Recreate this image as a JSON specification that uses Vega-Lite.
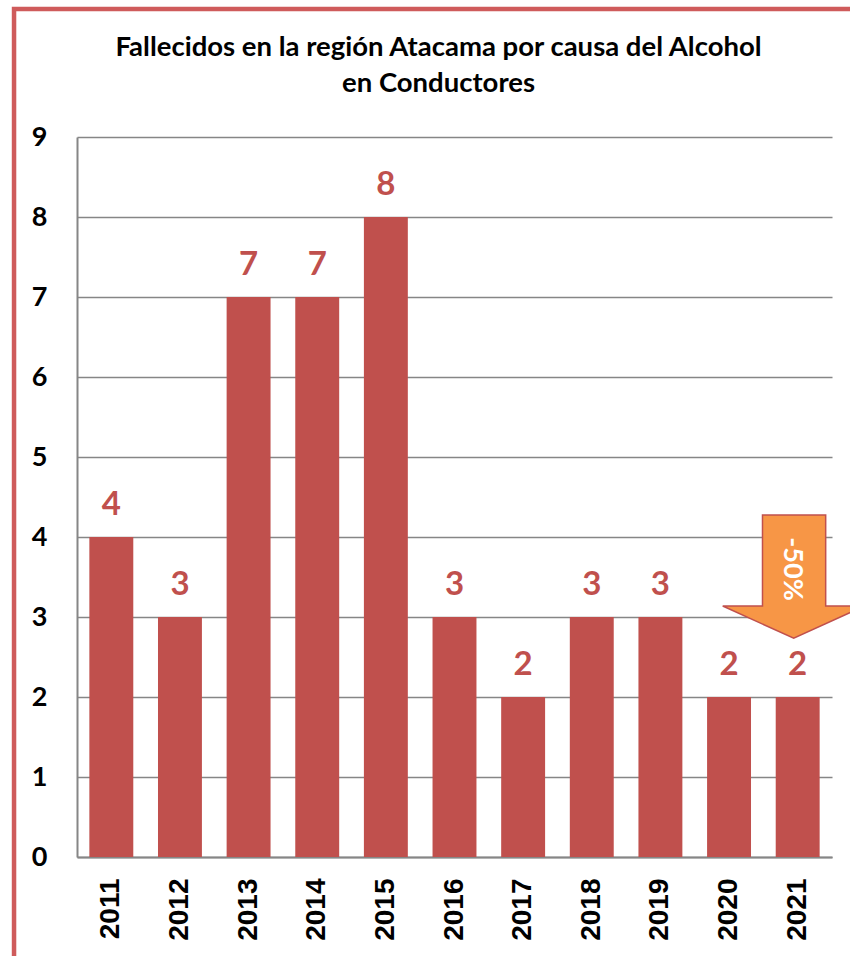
{
  "$schema": "https://vega.github.io/schema/vega-lite/v6.json",
  "autosize": "none",
  "width": 755,
  "height": 720,
  "padding": {"left": 77, "top": 137, "right": 18, "bottom": 99},
  "background": "white",
  "title": {
    "text": ["Fallecidos en la región Atacama por causa del Alcohol", "en Conductores"],
    "font": "Lato",
    "fontSize": 27.5,
    "fontWeight": "bold",
    "color": "#000000",
    "anchor": "middle",
    "frame": "group",
    "dx": -16,
    "lineHeight": 36,
    "baseline": "alphabetic",
    "offset": -113
  },
  "data": {
    "values": [
      {"year": "2011", "value": 4},
      {"year": "2012", "value": 3},
      {"year": "2013", "value": 7},
      {"year": "2014", "value": 7},
      {"year": "2015", "value": 8},
      {"year": "2016", "value": 3},
      {"year": "2017", "value": 2},
      {"year": "2018", "value": 3},
      {"year": "2019", "value": 3},
      {"year": "2020", "value": 2},
      {"year": "2021", "value": 2}
    ]
  },
  "resolve": {"scale": {"x": "independent"}, "axis": {"x": "independent"}},
  "layer": [
    {
      "data": {"values": [{"frame": "border"}]},
      "mark": {"type": "rect", "fill": null, "stroke": "#CF5B5B", "strokeWidth": 4.5, "clip": false},
      "encoding": {
        "x": {"datum": -0.0834, "type": "quantitative", "scale": {"domain": [0, 1], "nice": false, "zero": false}, "axis": null},
        "x2": {"datum": 1.06},
        "y": {"datum": 10.6, "type": "quantitative"},
        "y2": {"datum": -1.6}
      }
    },
    {
      "layer": [
        {
          "mark": {"type": "bar", "color": "#C0504D"},
          "encoding": {
            "x": {
              "field": "year",
              "type": "ordinal",
              "title": null,
              "scale": {"paddingInner": 0.36, "paddingOuter": 0.18},
              "axis": {
                "labelAngle": -90,
                "labelFont": "Liberation Sans",
                "labelFontSize": 28,
                "labelFontWeight": "bold",
                "labelColor": "#000000",
                "labelPadding": 21,
                "ticks": false,
                "domainColor": "#868686",
                "domainWidth": 2
              }
            },
            "y": {
              "field": "value",
              "type": "quantitative",
              "title": null,
              "scale": {"domain": [0, 9], "nice": false},
              "axis": {
                "values": [0, 1, 2, 3, 4, 5, 6, 7, 8, 9],
                "format": "d",
                "labelFont": "Lato",
                "labelFontSize": 27,
                "labelFontWeight": "bold",
                "labelColor": "#000000",
                "labelPadding": 30,
                "ticks": false,
                "grid": true,
                "gridColor": "#868686",
                "gridWidth": 1.6,
                "domainColor": "#868686",
                "domainWidth": 2
              }
            }
          }
        },
        {
          "mark": {"type": "text", "font": "Lato", "fontSize": 33, "fontWeight": "bold", "color": "#C0504D", "baseline": "alphabetic", "dy": -22},
          "encoding": {
            "x": {"field": "year", "type": "ordinal"},
            "y": {"field": "value", "type": "quantitative"},
            "text": {"field": "value", "type": "quantitative"}
          }
        },
        {
          "data": {"values": [{"year": "2021", "label": "-50%"}]},
          "layer": [
            {
              "mark": {
                "type": "point",
                "filled": true,
                "shape": "M -0.44 -0.866 L 0.45 -0.866 L 0.45 0.415 L 1 0.415 L 0 0.87 L -1 0.415 L -0.44 0.415 Z",
                "size": 20164,
                "fill": "#F79646",
                "stroke": "#C0504D",
                "strokeWidth": 1.5,
                "opacity": 1,
                "clip": false
              },
              "encoding": {
                "x": {"field": "year", "type": "ordinal", "bandPosition": 0.41},
                "y": {"datum": 3.506, "type": "quantitative"}
              }
            },
            {
              "mark": {"type": "text", "font": "Lato", "fontSize": 27, "fontWeight": "bold", "color": "#FFFFFF", "angle": 90, "baseline": "middle", "align": "center"},
              "encoding": {
                "x": {"field": "year", "type": "ordinal", "bandPosition": 0.38},
                "y": {"datum": 3.6, "type": "quantitative"},
                "text": {"field": "label"}
              }
            }
          ]
        }
      ]
    }
  ],
  "config": {"view": {"stroke": null}}
}
